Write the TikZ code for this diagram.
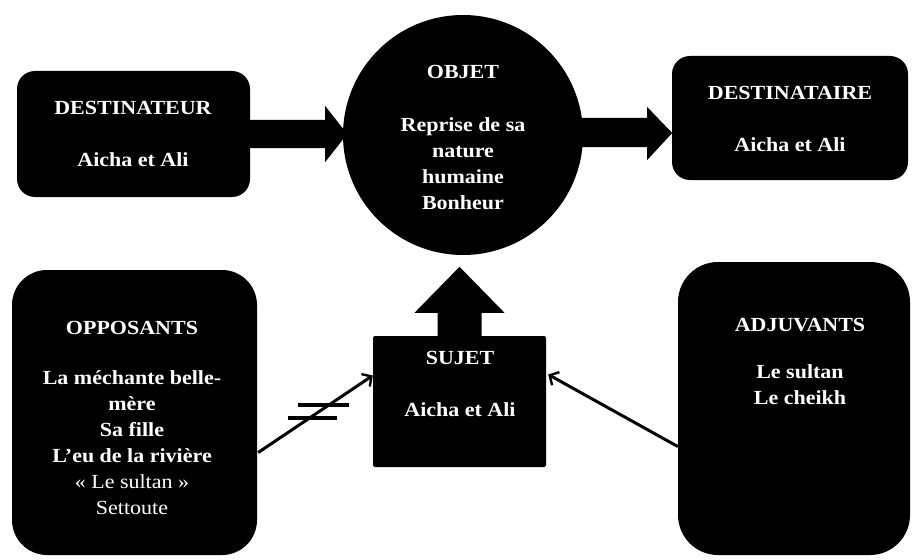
\documentclass[tikz,border=0pt]{standalone}
\usepackage{fontspec}
\setmainfont{Liberation Serif}[FakeStretch=1.1]
\usetikzlibrary{arrows.meta,calc}
\begin{document}
\begin{tikzpicture}[x=1pt,y=-1pt,
  box/.style={fill=black, draw=none, inner sep=0pt},
  lbl/.style={text=white, font=\fontsize{20}{26}\selectfont\bfseries, align=center, inner sep=0pt},
  conn/.style={line width=3pt, -{Straight Barb[length=7pt,width=15pt,line width=2.4pt]}},
  bar/.style={line width=3.2pt},
  blockarrow/.style={fill=black}
]
\useasboundingbox (0,0) rectangle (912,559);
\fill[white] (0,0) rectangle (912,559);

% boxes
\node[box, rounded corners=18pt, minimum width=233pt, minimum height=126pt] (dtr) at (133.5,134) {};
\node[box, rounded corners=18pt, minimum width=236pt, minimum height=124pt] (dta) at (790,118) {};
\node[box, circle, minimum size=240pt] (obj) at (463,135) {};
\node[box, rounded corners=2pt, minimum width=173pt, minimum height=131pt] (suj) at (459.5,401.5) {};
\node[box, rounded corners=35pt, minimum width=245pt, minimum height=285pt] (opp) at (134.5,412.5) {};
\node[box, rounded corners=40pt, minimum width=232pt, minimum height=293pt] (adj) at (794,408.5) {};

% block arrows
\fill[blockarrow] (dtr.east) ++(0,-14) -- ++(75,0) -- ++(0,-14) -- ++(22,28) -- ++(-22,28) -- ++(0,-14) -- ++(-75,0) -- cycle;
\fill[blockarrow] ($(obj.east)+(-15,-17)$) -- ++(79,0) -- ++(0,-11) -- ++(25,26) -- ++(-25,27) -- ++(0,-13) -- ++(-79,0) -- cycle;
\fill[blockarrow] ($(suj.north)+(-22,5)$) -- ++(0,-28) -- ++(-23,0) -- ++(45,-46) -- ++(45,46) -- ++(-23,0) -- ++(0,28) -- cycle;

% connectors
\coordinate (oppout) at ($(opp.east)+(1,40)$);
\coordinate (sujin1) at ($(suj.west)+(0,-26)$);
\draw[conn] (oppout) -- (sujin1);
\coordinate (adjout) at ($(adj.west)+(0,38)$);
\coordinate (sujin2) at ($(suj.east)+(2,-27)$);
\draw[conn] (adjout) -- (sujin2);
\draw[bar] (298,405) -- (349,405);
\draw[bar] (288,418) -- (337,418);

% texts
\node[lbl] (t1) at (133,108) {DESTINATEUR};
\node[lbl] (t1b) at (133,160) {Aicha et Ali};
\node[lbl] (t2) at (463,72) {OBJET};
\node[lbl] (t2b) at (463,164) {Reprise de sa\\nature\\humaine\\Bonheur};
\node[lbl] (t3) at (790,93) {DESTINATAIRE};
\node[lbl] (t3b) at (790,145) {Aicha et Ali};
\node[lbl] (t4) at (460,358) {SUJET};
\node[lbl] (t4b) at (460,410) {Aicha et Ali};
\node[lbl] (t5) at (132,328) {OPPOSANTS};
\node[lbl] (t5b) at (132,443) {La méchante belle-\\mère\\Sa fille\\L’eu de la rivière\\{\mdseries «~Le sultan~»}\\{\mdseries Settoute}};
\node[lbl] (t6) at (800,325) {ADJUVANTS};
\node[lbl] (t6b) at (800,385) {Le sultan\\Le cheikh};
\end{tikzpicture}
\end{document}
